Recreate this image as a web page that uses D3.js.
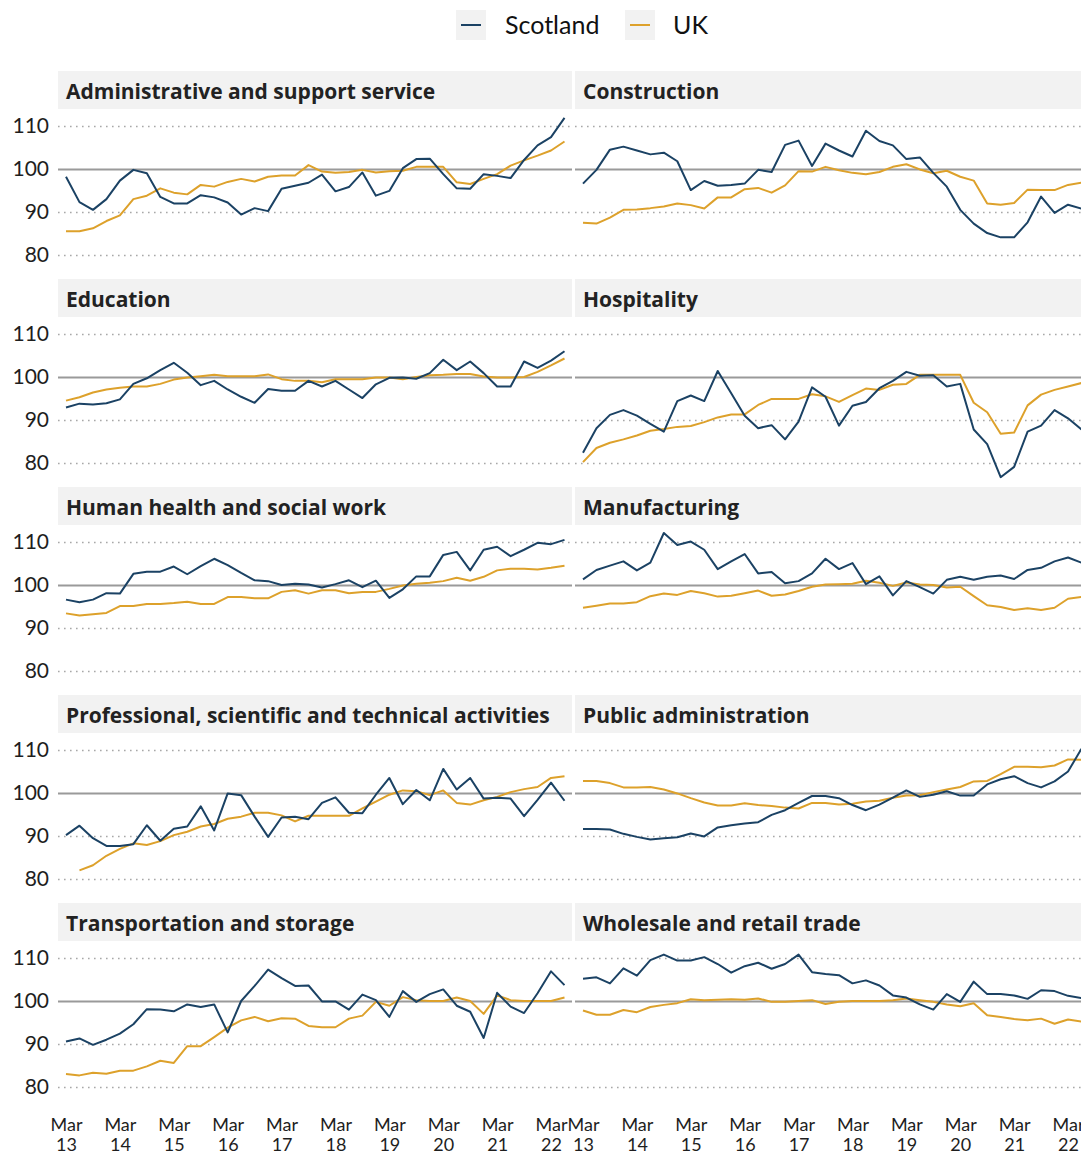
<!DOCTYPE html>
<html><head><meta charset="utf-8">
<script src="https://cdn.jsdelivr.net/npm/d3@7"></script>
<style>body{margin:0;background:#fff}svg{display:block}</style>
</head><body><svg id="c" width="1081" height="1155"></svg>
<script>
const quarters = ["Mar 13","Jun 13","Sep 13","Dec 13","Mar 14","Jun 14","Sep 14","Dec 14","Mar 15","Jun 15","Sep 15","Dec 15","Mar 16","Jun 16","Sep 16","Dec 16","Mar 17","Jun 17","Sep 17","Dec 17","Mar 18","Jun 18","Sep 18","Dec 18","Mar 19","Jun 19","Sep 19","Dec 19","Mar 20","Jun 20","Sep 20","Dec 20","Mar 21","Jun 21","Sep 21","Dec 21","Mar 22","Jun 22"];
const tickLabels = ["Mar 13","Mar 14","Mar 15","Mar 16","Mar 17","Mar 18","Mar 19","Mar 20","Mar 21","Mar 22"];
const yTicks = [80, 90, 100, 110];
const seriesNames = ["Scotland", "UK"];
const sectors = ["Administrative and support service","Construction","Education","Hospitality","Human health and social work","Manufacturing","Professional, scientific and technical activities","Public administration","Transportation and storage","Wholesale and retail trade"];

const scotlandAdmin = [98.2,92.3,90.5,93.0,97.3,99.8,99.0,93.5,92.0,92.0,93.9,93.4,92.2,89.4,90.9,90.2,95.4,96.1,96.8,98.7,94.8,95.8,99.2,93.8,94.9,100.2,102.3,102.4,98.8,95.5,95.4,98.8,98.4,97.9,102.1,105.5,107.4,111.9];
const ukAdmin = [85.5,85.5,86.2,87.9,89.2,93.0,93.8,95.5,94.5,94.1,96.3,95.9,97.0,97.7,97.1,98.2,98.5,98.5,100.9,99.4,99.1,99.3,99.8,99.2,99.5,99.6,100.5,100.5,100.5,96.9,96.5,97.7,98.8,100.8,102.0,103.1,104.3,106.4];
const scotlandConstruction = [96.6,99.8,104.5,105.2,104.3,103.4,103.8,101.8,95.1,97.2,96.1,96.3,96.6,99.8,99.3,105.6,106.6,100.7,105.9,104.3,102.9,108.9,106.5,105.5,102.3,102.7,99.1,95.9,90.5,87.3,85.1,84.1,84.1,87.6,93.6,89.8,91.7,90.8];
const ukConstruction = [87.5,87.3,88.7,90.5,90.6,90.9,91.3,92.0,91.6,90.8,93.4,93.4,95.3,95.6,94.5,96.2,99.5,99.4,100.5,99.7,99.1,98.8,99.3,100.5,101.1,99.9,99.0,99.6,98.2,97.3,92.0,91.7,92.1,95.2,95.1,95.1,96.3,96.8];
const scotlandEducation = [92.9,93.8,93.6,93.9,94.8,98.4,99.7,101.6,103.3,101.0,98.1,99.1,97.1,95.4,94.0,97.2,96.8,96.8,99.1,97.8,99.1,97.1,95.1,98.3,99.8,99.9,99.6,100.9,104.0,101.6,103.6,100.9,97.8,97.8,103.6,102.1,103.8,106.0];
const ukEducation = [94.5,95.3,96.4,97.1,97.5,97.8,97.8,98.4,99.4,99.9,100.2,100.5,100.2,100.2,100.2,100.6,99.5,99.1,99.1,98.8,99.5,99.5,99.5,99.9,99.9,99.5,100.0,100.4,100.5,100.7,100.7,100.1,99.9,99.9,100.0,101.2,102.7,104.3];
const scotlandHospitality = [82.4,88.1,91.2,92.3,91.0,89.1,87.3,94.4,95.7,94.4,101.4,96.2,91.0,88.1,88.8,85.5,89.6,97.6,95.4,88.7,93.3,94.2,97.4,99.1,101.2,100.3,100.4,97.8,98.4,87.8,84.4,76.7,79.1,87.3,88.7,92.3,90.4,87.8];
const ukHospitality = [80.2,83.5,84.7,85.5,86.4,87.5,87.9,88.4,88.6,89.5,90.6,91.3,91.3,93.5,94.9,94.9,94.9,96.0,95.5,94.2,95.8,97.3,97.0,98.2,98.4,100.5,100.5,100.5,100.5,94.0,91.8,86.8,87.1,93.4,95.9,97.0,97.8,98.6];
const scotlandHealth = [96.6,96.0,96.6,98.1,98.0,102.6,103.1,103.1,104.3,102.5,104.4,106.1,104.6,102.8,101.1,100.9,100.0,100.3,100.1,99.4,100.2,101.1,99.5,101.0,97.0,99.0,102.0,102.0,107.0,107.7,103.4,108.2,108.9,106.7,108.2,109.8,109.5,110.5];
const ukHealth = [93.4,92.9,93.2,93.5,95.1,95.1,95.6,95.6,95.8,96.1,95.6,95.6,97.2,97.2,96.9,96.9,98.4,98.8,98.0,98.8,98.8,98.1,98.4,98.4,99.1,99.9,100.3,100.5,100.9,101.7,101.0,101.9,103.4,103.8,103.8,103.6,104.0,104.5];
const scotlandManufacturing = [101.3,103.5,104.5,105.5,103.4,105.2,112.1,109.3,110.1,108.2,103.7,105.5,107.2,102.7,103.0,100.4,100.9,102.7,106.1,103.7,105.1,100.2,102.0,97.6,100.9,99.5,98.0,101.2,101.9,101.2,101.9,102.2,101.4,103.5,104.0,105.5,106.4,105.2];
const ukManufacturing = [94.7,95.2,95.7,95.7,96.0,97.4,98.0,97.7,98.6,98.1,97.3,97.5,98.1,98.7,97.5,97.8,98.6,99.6,100.1,100.2,100.3,101.0,100.5,99.8,100.6,100.1,100.0,99.4,99.6,97.4,95.3,94.9,94.2,94.6,94.2,94.7,96.8,97.2];
const scotlandProfessional = [90.2,92.4,89.5,87.7,87.7,88.1,92.5,88.9,91.7,92.2,96.9,91.3,99.9,99.5,94.5,89.8,94.3,94.5,93.9,97.7,99.0,95.4,95.3,99.6,103.5,97.4,100.7,98.3,105.6,100.8,103.5,98.7,98.9,98.7,94.6,98.4,102.4,98.2];
const ukProfessional = [null,82.0,83.2,85.4,87.0,88.3,87.9,88.8,90.2,91.0,92.2,92.8,94.0,94.5,95.4,95.4,94.8,93.4,94.7,94.7,94.7,94.7,96.4,98.0,99.6,100.6,100.4,99.5,100.6,97.7,97.3,98.3,99.1,100.2,100.9,101.4,103.5,103.9];
const scotlandPublic = [91.6,91.6,91.5,90.5,89.8,89.2,89.5,89.7,90.6,89.9,92.0,92.5,92.9,93.2,94.9,96.0,97.7,99.3,99.3,98.8,97.2,96.0,97.3,98.9,100.6,99.1,99.6,100.4,99.4,99.4,102.0,103.2,103.9,102.3,101.3,102.7,105.0,110.3];
const ukPublic = [102.8,102.8,102.3,101.3,101.3,101.4,100.8,99.9,98.8,97.8,97.1,97.1,97.6,97.2,97.0,96.6,96.4,97.7,97.7,97.3,97.5,98.0,98.2,98.9,99.4,99.5,100.2,100.8,101.4,102.7,102.8,104.4,106.1,106.1,106.0,106.4,107.8,107.7];
const scotlandTransport = [90.6,91.3,89.8,91.0,92.4,94.6,98.1,98.0,97.6,99.2,98.6,99.2,92.7,100.0,103.5,107.3,105.3,103.5,103.6,99.9,99.9,98.0,101.5,100.2,96.3,102.3,99.8,101.6,102.7,98.9,97.5,91.4,101.9,98.7,97.2,101.8,106.9,103.7];
const ukTransport = [83.0,82.7,83.3,83.1,83.8,83.8,84.8,86.1,85.6,89.5,89.5,91.6,93.8,95.5,96.3,95.3,96.0,95.9,94.2,93.9,93.9,95.9,96.6,99.8,98.9,100.9,100.2,100.0,100.0,100.8,100.0,97.0,101.3,100.2,100.0,100.0,100.0,100.8];
const scotlandWholesale = [105.2,105.5,104.1,107.6,105.9,109.5,110.8,109.4,109.4,110.2,108.6,106.6,108.1,108.9,107.5,108.6,110.8,106.7,106.3,106.0,104.1,104.8,103.6,101.3,100.8,99.2,98.0,101.6,99.8,104.5,101.6,101.6,101.3,100.5,102.5,102.3,101.2,100.7];
const ukWholesale = [97.8,96.8,96.8,97.9,97.4,98.6,99.1,99.5,100.4,100.2,100.3,100.4,100.3,100.6,99.8,99.8,100.0,100.2,99.3,99.8,100.0,100.0,100.0,100.2,100.6,100.2,99.8,99.2,98.8,99.5,96.7,96.3,95.8,95.5,95.9,94.7,95.7,95.2];

const scotlandSeries = [scotlandAdmin, scotlandConstruction, scotlandEducation, scotlandHospitality, scotlandHealth, scotlandManufacturing, scotlandProfessional, scotlandPublic, scotlandTransport, scotlandWholesale];
const ukSeries = [ukAdmin, ukConstruction, ukEducation, ukHospitality, ukHealth, ukManufacturing, ukProfessional, ukPublic, ukTransport, ukWholesale];

const colors = {Scotland: "#1b4264", UK: "#dda12b"};
const FONT = "Lato, 'Noto Sans', sans-serif";
const TITLE_FONT = "'Open Sans', Lato, sans-serif";

const svg = d3.select("#c").style("font-family", FONT);

// Legend
const legend = svg.append("g");
const legendX = [456, 625];
const legendTextX = [505, 673];
seriesNames.forEach((name, i) => {
  legend.append("rect").attr("x", legendX[i]).attr("y", 10).attr("width", 30).attr("height", 30).attr("fill", "#f2f2f2");
  legend.append("line").attr("x1", legendX[i] + 5).attr("x2", legendX[i] + 25).attr("y1", 25).attr("y2", 25)
    .attr("stroke", colors[name]).attr("stroke-width", 2);
  legend.append("text").attr("x", legendTextX[i]).attr("y", 34).attr("font-size", 25).attr("fill", "#111").text(name);
});

const colLeft = [58, 575];
const panelW = 514;
const rowTop0 = 71, rowStep = 208;

sectors.forEach((sector, i) => {
  const col = i % 2, row = Math.floor(i / 2);
  const top = rowTop0 + row * rowStep;
  const left = colLeft[col];
  const g = svg.append("g");

  const x = d3.scalePoint().domain(quarters).range([left + 8, left + 506.5]);
  const y = d3.scaleLinear().domain([80, 110]).range([top + 184, top + 55]);

  // strip
  g.append("rect").attr("x", left).attr("y", top).attr("width", panelW).attr("height", 38).attr("fill", "#f2f2f2");
  g.append("text").attr("x", left + 8).attr("y", top + 28).attr("font-size", 21).attr("font-weight", 700)
    .attr("font-family", TITLE_FONT).attr("fill", "#222").text(sector);

  // grid
  const yAxis = d3.axisLeft(y).tickValues(yTicks).tickSize(-panelW).tickFormat(d => col === 0 ? d : "");
  const ya = g.append("g").attr("transform", `translate(${left},0)`).call(yAxis);
  ya.select(".domain").remove();
  ya.selectAll(".tick line").attr("stroke", d => d === 100 ? "#9a9a9a" : "#a8a8a8")
    .attr("stroke-width", d => d === 100 ? 2 : 1.6)
    .attr("stroke-dasharray", d => d === 100 ? null : "1.6,4.4")
    .attr("stroke-linecap", "butt");
  ya.selectAll(".tick text").attr("x", -9).attr("font-size", 21).attr("fill", "#1e1e1e").attr("font-family", FONT);

  // lines
  const line = d3.line().defined(d => d.v != null).x(d => x(d.q)).y(d => y(d.v));
  [[ukSeries[i], "UK"], [scotlandSeries[i], "Scotland"]].forEach(([vals, name]) => {
    g.append("path").datum(vals.map((v, k) => ({q: quarters[k], v})))
      .attr("fill", "none").attr("stroke", colors[name]).attr("stroke-width", 2)
      .attr("stroke-linejoin", "round").attr("d", line);
  });

  // x axis on bottom row
  if (row === 4) {
    const xAxis = d3.axisBottom(x).tickValues(tickLabels).tickSize(0).tickFormat("");
    const xa = g.append("g").attr("transform", `translate(0,${top + 184})`).call(xAxis);
    xa.select(".domain").remove();
    xa.selectAll(".tick").each(function(d) {
      const parts = d.split(" ");
      const sel = d3.select(this);
      sel.append("text").attr("text-anchor", "middle").attr("font-size", 18).attr("y", 44)
        .attr("fill", "#1e1e1e").attr("font-family", FONT).text(parts[0]);
      sel.append("text").attr("text-anchor", "middle").attr("font-size", 18).attr("y", 64)
        .attr("fill", "#1e1e1e").attr("font-family", FONT).text(parts[1]);
    });
  }
});
</script></body></html>
